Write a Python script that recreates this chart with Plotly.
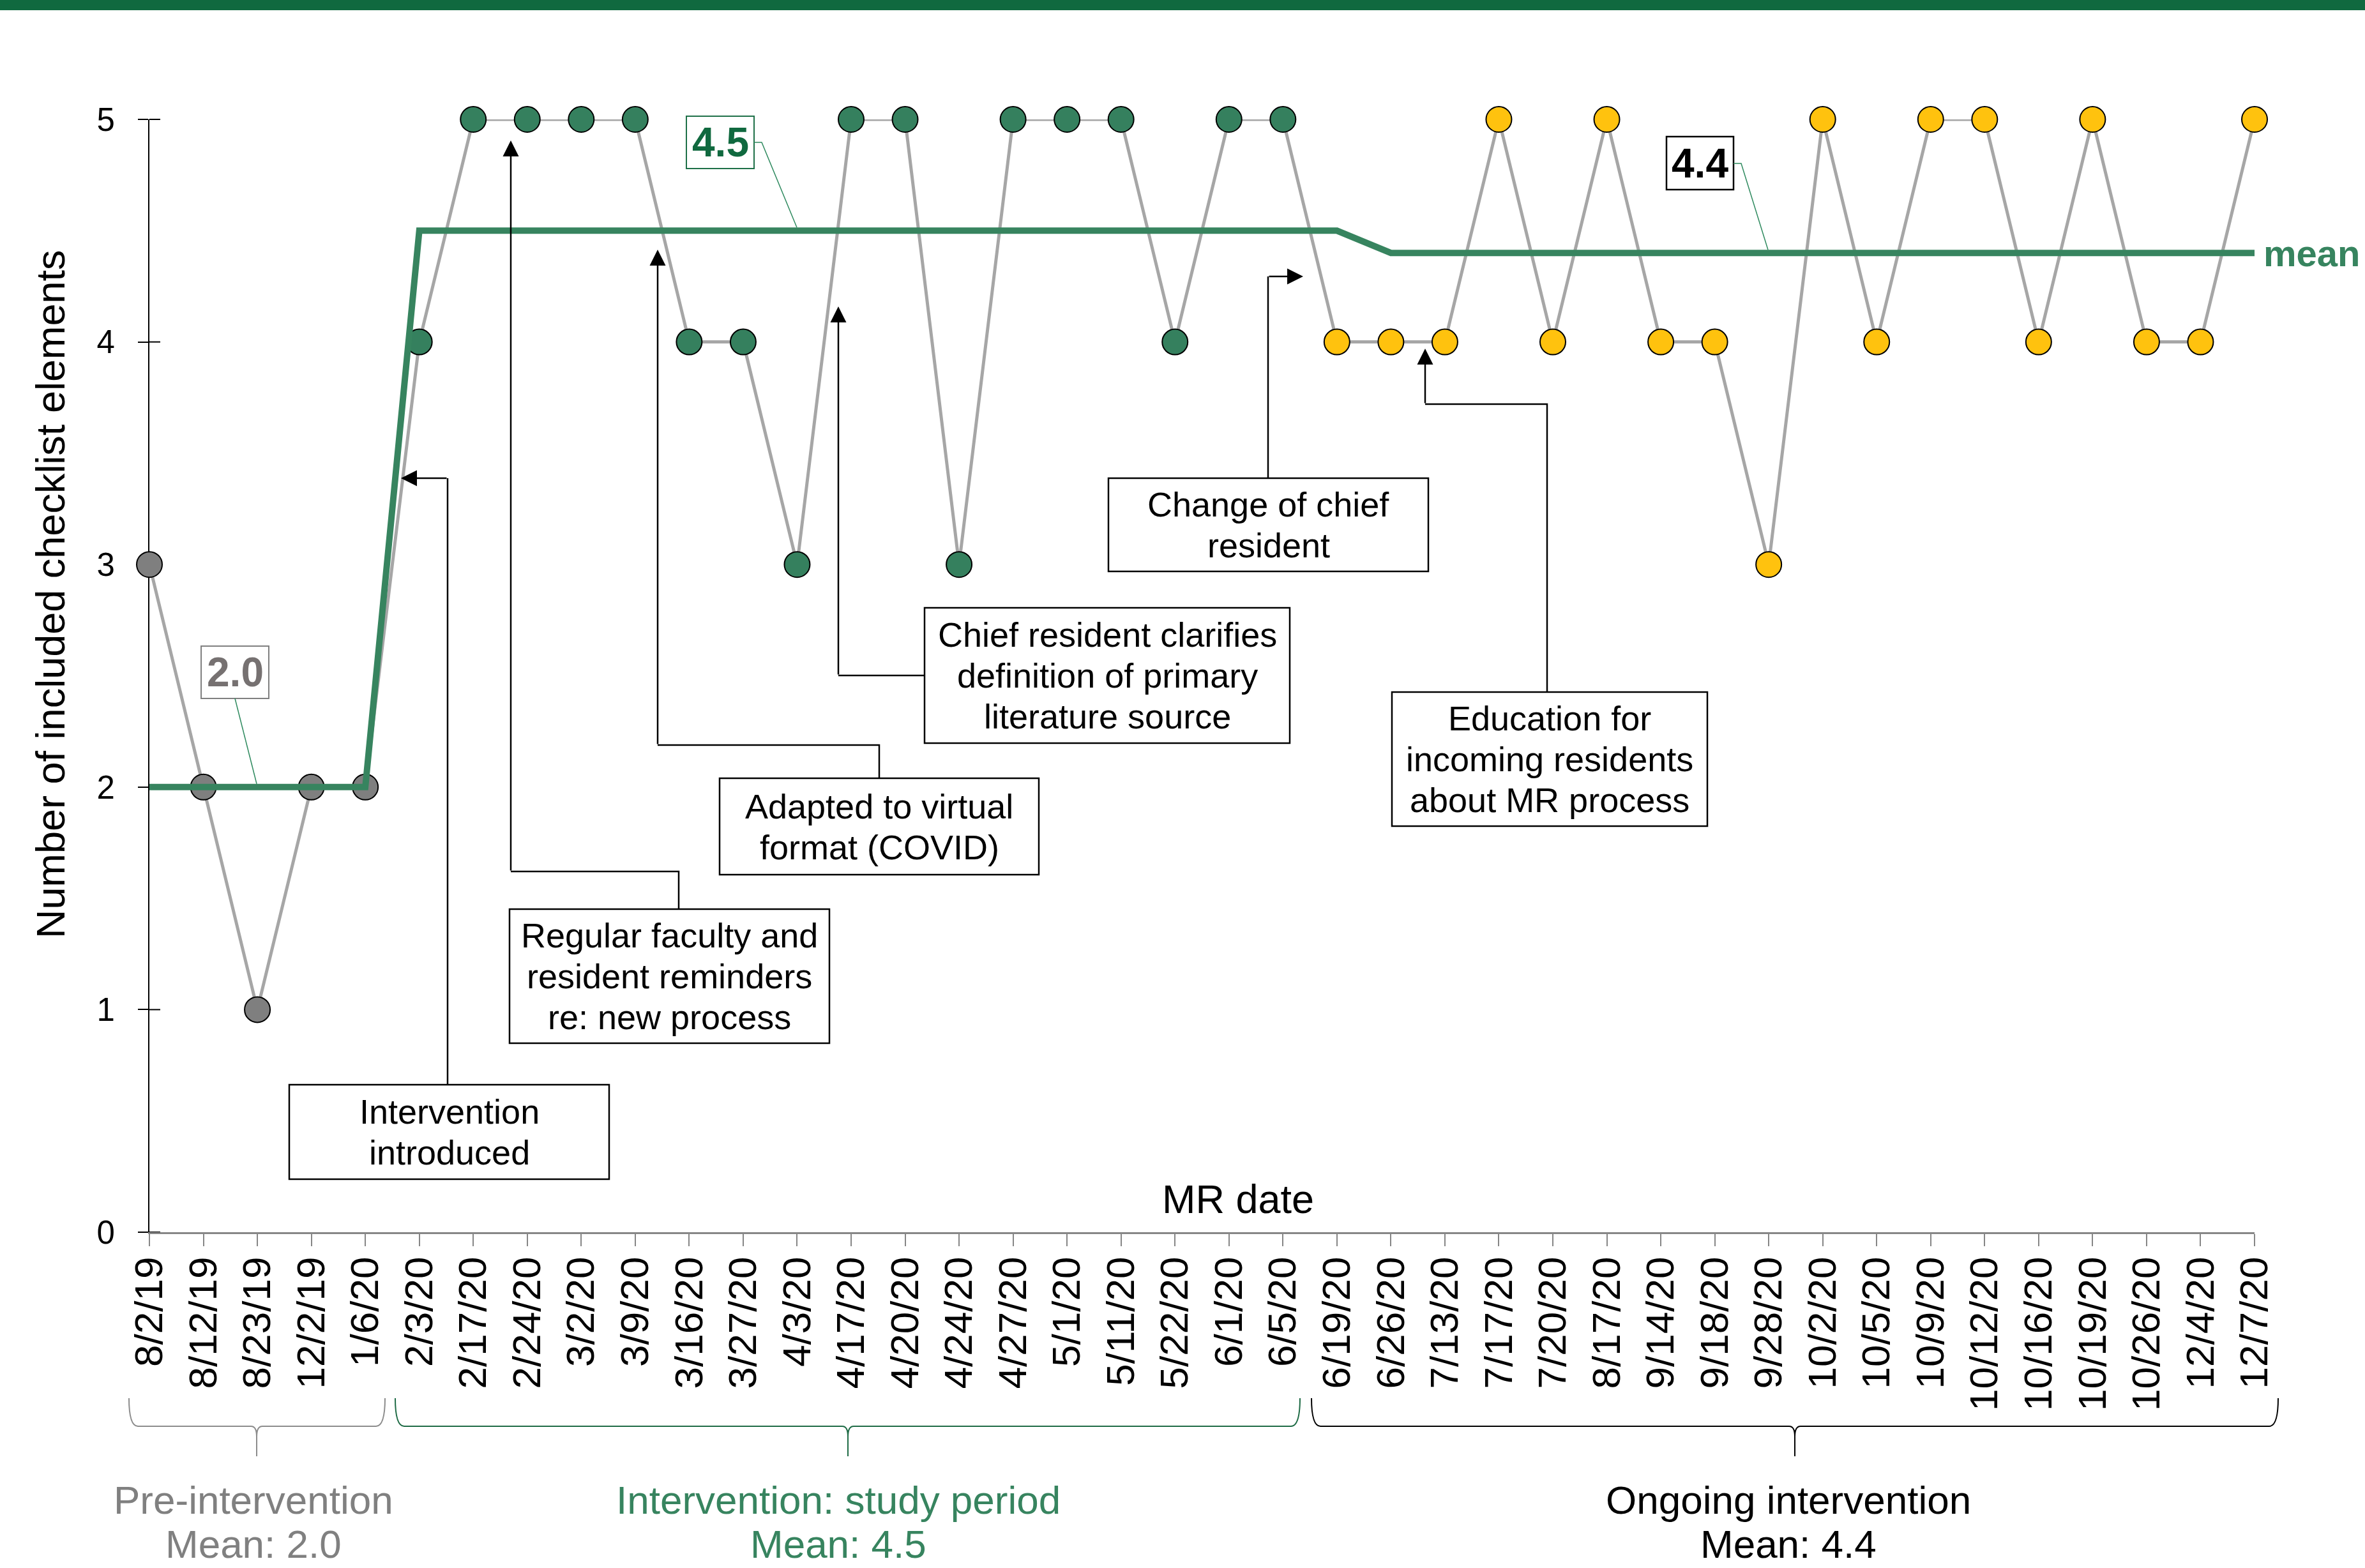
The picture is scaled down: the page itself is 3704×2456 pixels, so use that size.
import plotly.graph_objects as go

# ---- data -------------------------------------------------------------
pre_dates = ["8/2/19", "8/12/19", "8/23/19", "12/2/19", "1/6/20"]
pre_values = [3, 2, 1, 2, 2]

study_dates = ["2/3/20", "2/17/20", "2/24/20", "3/2/20", "3/9/20", "3/16/20",
               "3/27/20", "4/3/20", "4/17/20", "4/20/20", "4/24/20", "4/27/20",
               "5/1/20", "5/11/20", "5/22/20", "6/1/20", "6/5/20"]
study_values = [4, 5, 5, 5, 5, 4, 4, 3, 5, 5, 3, 5, 5, 5, 4, 5, 5]

ongoing_dates = ["6/19/20", "6/26/20", "7/13/20", "7/17/20", "7/20/20", "8/17/20",
                 "9/14/20", "9/18/20", "9/28/20", "10/2/20", "10/5/20", "10/9/20",
                 "10/12/20", "10/16/20", "10/19/20", "10/26/20", "12/4/20", "12/7/20"]
ongoing_values = [4, 4, 4, 5, 4, 5, 4, 4, 3, 5, 4, 5, 5, 4, 5, 4, 4, 5]

pre_mean = 2.0
study_mean = 4.5
ongoing_mean = 4.4

# phase mean drawn across every MR date
mean_line = [2.0, 2.0, 2.0, 2.0, 2.0,
             4.5, 4.5, 4.5, 4.5, 4.5, 4.5, 4.5, 4.5, 4.5,
             4.5, 4.5, 4.5, 4.5, 4.5, 4.5, 4.5, 4.5, 4.5,
             4.4, 4.4, 4.4, 4.4, 4.4, 4.4, 4.4, 4.4, 4.4,
             4.4, 4.4, 4.4, 4.4, 4.4, 4.4, 4.4, 4.4]

y_ticks = [0, 1, 2, 3, 4, 5]

all_dates = pre_dates + study_dates + ongoing_dates
all_values = pre_values + study_values + ongoing_values

# ---- styling ----------------------------------------------------------
FONT = "Liberation Sans, Arial, sans-serif"
GREEN = "#37845F"
GREEN_MARK = "#35805E"
GREEN_DARK = "#10693F"
LEADER = "#2F8A5F"
GRAY_MARK = "#7F7F7F"
YELLOW = "#FFC20E"
LINE_GRAY = "#A6A6A6"

W, H = 3704, 2456
PL, PR, PT, PB = 234, 3531, 187, 1930   # plot area in page pixels
PW, PH = PR - PL, PB - PT


def px_x(px):
    return (px - PL) / PW


def px_y(py):
    return (PB - py) / PH


def val_py(v):
    return PB - v / 5 * PH


def idx_px(i):
    return PL + i / (len(all_dates) - 1) * PW


shapes = []
annotations = []


def text_at(px, py, txt, size, color, bold=False, xanchor="center", angle=0):
    annotations.append(dict(
        xref="paper", yref="paper", x=px_x(px), y=px_y(py),
        text=f"<b>{txt}</b>" if bold else txt, showarrow=False,
        font=dict(family=FONT, size=size, color=color),
        xanchor=xanchor, yanchor="middle", textangle=angle))


def rect(x0, y0, x1, y1, color, width=2.5):
    shapes.append(dict(type="rect", xref="paper", yref="paper",
                       x0=px_x(x0), x1=px_x(x1), y0=px_y(y1), y1=px_y(y0),
                       line=dict(color=color, width=width),
                       fillcolor="white", layer="above"))


def polyline(points, color, width, layer="above"):
    path = "M" + " L".join(f"{px_x(x):.5f},{px_y(y):.5f}" for x, y in points)
    shapes.append(dict(type="path", xref="paper", yref="paper", path=path,
                       line=dict(color=color, width=width), layer=layer))


def connector(points):
    # elbow connector; the last leg ends in an arrow head
    if len(points) > 2:
        polyline(points[:-1], "black", 2.5)
    (sx, sy), (tx, ty) = points[-2], points[-1]
    annotations.append(dict(
        xref="paper", yref="paper", x=px_x(tx), y=px_y(ty),
        ax=sx - tx, ay=sy - ty, axref="pixel", ayref="pixel",
        text="", showarrow=True, arrowhead=2, arrowsize=2,
        arrowwidth=2.5, arrowcolor="black", standoff=0))


def callout_box(x0, y0, x1, y1, lines, size=54, spacing=64):
    rect(x0, y0, x1, y1, "black")
    cy = (y0 + y1) / 2
    n = len(lines)
    for k, line in enumerate(lines):
        text_at((x0 + x1) / 2, cy + (k - (n - 1) / 2) * spacing, line, size, "black")


def brace(x0, x1, xc, color, ytop=2190, ymid=2234, ybot=2281, r=14):
    def p(x, y):
        return f"{px_x(x):.5f},{px_y(y):.5f}"
    path = (f"M{p(x0, ytop)} Q{p(x0, ymid)} {p(x0 + r, ymid)} L{p(xc - 9, ymid)} "
            f"Q{p(xc, ymid)} {p(xc, ymid + 16)} L{p(xc, ybot)} "
            f"M{p(xc, ymid + 16)} Q{p(xc, ymid)} {p(xc + 9, ymid)} "
            f"L{p(x1 - r, ymid)} Q{p(x1, ymid)} {p(x1, ytop)}")
    shapes.append(dict(type="path", xref="paper", yref="paper", path=path,
                       line=dict(color=color, width=2)))


# ---- traces -----------------------------------------------------------
fig = go.Figure()

fig.add_trace(go.Scatter(
    x=all_dates, y=all_values, mode="lines",
    line=dict(color=LINE_GRAY, width=5), hoverinfo="skip", showlegend=False))

for dates, vals, color in [(pre_dates, pre_values, GRAY_MARK),
                           (study_dates, study_values, GREEN_MARK),
                           (ongoing_dates, ongoing_values, YELLOW)]:
    fig.add_trace(go.Scatter(
        x=dates, y=vals, mode="markers", cliponaxis=False,
        marker=dict(size=40, color=color, line=dict(color="black", width=2)),
        showlegend=False))

fig.add_trace(go.Scatter(
    x=all_dates, y=mean_line, mode="lines", cliponaxis=False,
    line=dict(color=GREEN, width=10), hoverinfo="skip", showlegend=False))

# inward half of the cross-style y ticks, kept beneath the markers
for v in y_ticks:
    polyline([(PL, val_py(v)), (PL + 17, val_py(v))], "black", 2, layer="below")

# ---- header band -----------------------------------------------------------
shapes.append(dict(type="rect", xref="paper", yref="paper",
                   x0=px_x(0), x1=px_x(W), y0=px_y(16), y1=px_y(0),
                   line=dict(width=0), fillcolor=GREEN_DARK, layer="above"))

# ---- event annotations ---------------------------------------------------
callout_box(453, 1699, 954, 1847, ["Intervention", "introduced"])
connector([(701, 1699), (701, 749), (628, 749)])

callout_box(798, 1424, 1299, 1634,
            ["Regular faculty and", "resident reminders", "re: new process"])
connector([(1063, 1424), (1063, 1365), (800, 1365), (800, 220)])

callout_box(1127, 1219, 1627, 1370, ["Adapted to virtual", "format (COVID)"])
connector([(1377, 1219), (1377, 1167), (1030, 1167), (1030, 391)])

callout_box(1448, 952, 2020, 1164,
            ["Chief resident clarifies", "definition of primary", "literature source"])
connector([(1448, 1058), (1313, 1058), (1313, 480)])

callout_box(1736, 749, 2237, 895, ["Change of chief", "resident"])
connector([(1986, 749), (1986, 433), (2041, 433)])

callout_box(2180, 1084, 2674, 1294,
            ["Education for", "incoming residents", "about MR process"])
connector([(2423, 1084), (2423, 633), (2232, 633), (2232, 546)])

# ---- mean value callouts ----------------------------------------------------
rect(315, 1012, 421, 1094, "#7F7F7F", 2)
text_at(368, 1053, f"{pre_mean:.1f}", 64, "#767171", bold=True)
polyline([(368, 1094), (402, val_py(pre_mean) - 5)], LEADER, 1.5)

rect(1075, 182, 1181, 264, "#1E7048", 2)
text_at(1128, 223, f"{study_mean:.1f}", 64, GREEN_DARK, bold=True)
polyline([(1181, 223), (1193, 223), (1248, val_py(study_mean) - 5)], LEADER, 1.5)

rect(2610, 214, 2715, 297, "black", 2.5)
text_at(2662, 256, f"{ongoing_mean:.1f}", 64, "black", bold=True)
polyline([(2715, 256), (2727, 256), (2769, val_py(ongoing_mean) - 5)], LEADER, 1.5)

text_at(idx_px(len(all_dates) - 1) + 12, val_py(mean_line[-1]), "mean", 58, GREEN,
        bold=True, xanchor="left")

# ---- axis titles -------------------------------------------------------------
text_at(1939, 1878, "MR date", 63, "black")
text_at(79, 931, "Number of included checklist elements", 63, "black", angle=-90)

# ---- period braces and summaries -----------------------------------------
brace(202, 603, 402, "#8C8C8C")
brace(619, 2036, 1328, "#1E6B45")
brace(2054, 3568, 2811, "black")

LINE1, LINE2 = 2349, 2418
text_at(397, LINE1, "Pre-intervention", 62, "#808080")
text_at(397, LINE2, f"Mean: {pre_mean:.1f}", 62, "#808080")
text_at(1313, LINE1, "Intervention: study period", 62, GREEN)
text_at(1313, LINE2, f"Mean: {study_mean:.1f}", 62, GREEN)
text_at(2801, LINE1, "Ongoing intervention", 62, "black")
text_at(2801, LINE2, f"Mean: {ongoing_mean:.1f}", 62, "black")

# ---- layout ----------------------------------------------------------------
fig.update_layout(
    width=W, height=H,
    margin=dict(l=PL, r=W - PR, t=PT, b=H - PB, pad=0),
    paper_bgcolor="white", plot_bgcolor="white",
    font=dict(family=FONT, color="black"),
    showlegend=False,
    shapes=shapes, annotations=annotations,
    xaxis=dict(
        type="category", range=[0, len(all_dates) - 1],
        tickmode="array", tickvals=all_dates, ticktext=all_dates,
        tickangle=-90, tickfont=dict(size=62, color="black"),
        ticks="outside", ticklen=19, tickwidth=2, tickcolor="#868686",
        ticklabelstandoff=-8,
        showline=True, linecolor="#868686", linewidth=2.5,
        showgrid=False, zeroline=False, automargin=False),
    yaxis=dict(
        range=[0, 5], tickmode="array", tickvals=y_ticks,
        tickfont=dict(size=51, color="black"),
        ticks="outside", ticklen=16, tickwidth=2, tickcolor="black",
        ticklabelstandoff=26, layer="below traces",
        showline=True, linecolor="black", linewidth=2,
        showgrid=False, zeroline=False, automargin=False),
)

fig.write_html("out.html")
